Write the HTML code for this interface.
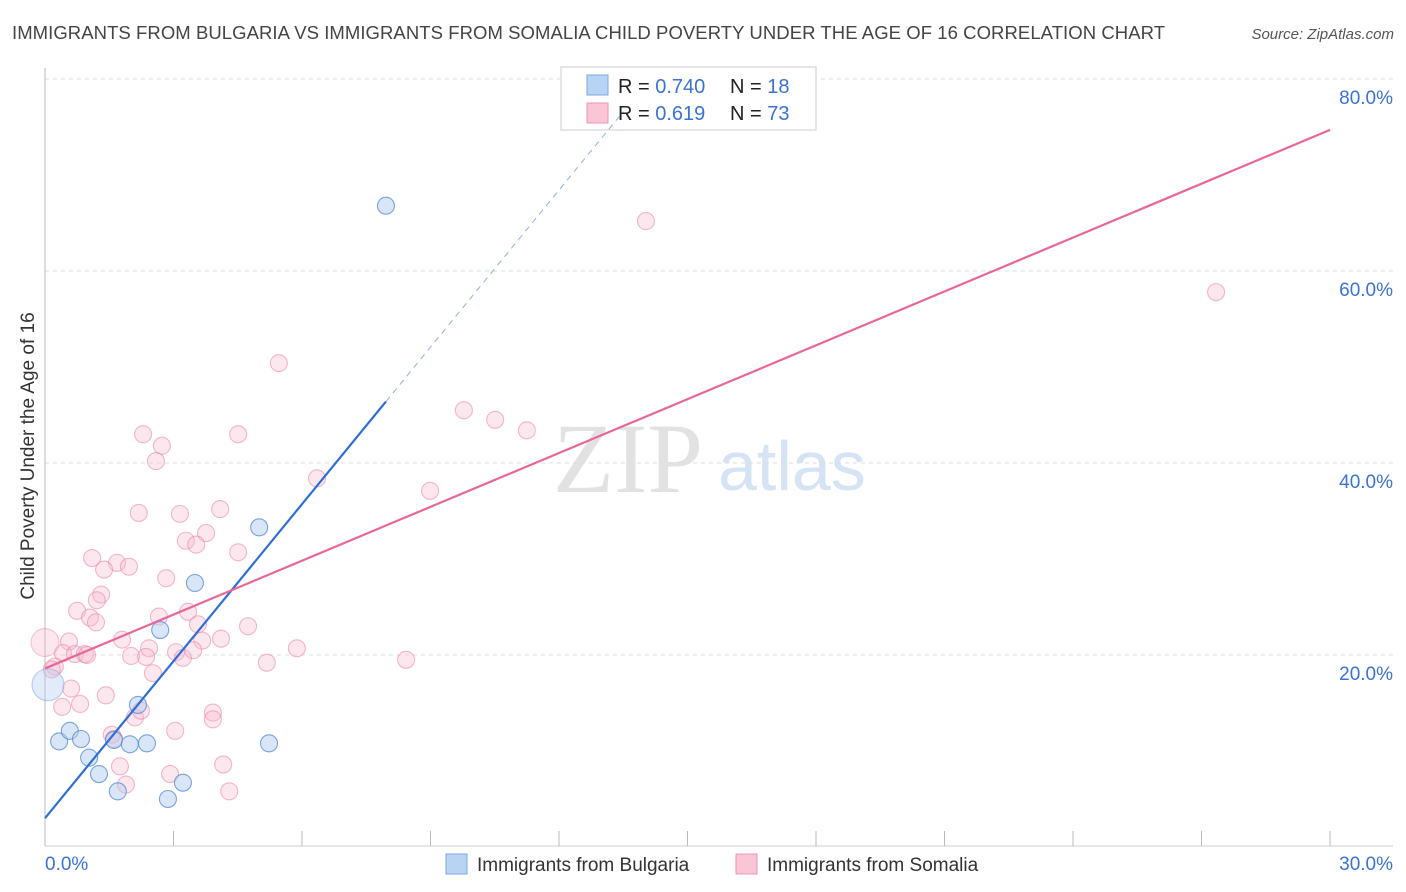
<!DOCTYPE html>
<html><head><meta charset="utf-8">
<style>
body{margin:0;background:#fff;font-family:"Liberation Sans",sans-serif;}
#wrap{position:relative;width:1406px;height:892px;overflow:hidden;}
svg text{font-family:"Liberation Sans",sans-serif;}
</style></head>
<body>
<div id="wrap">
<svg id="chart" width="1406" height="892">
  <text x="12" y="39" font-size="18.5" fill="#444" textLength="1153">IMMIGRANTS FROM BULGARIA VS IMMIGRANTS FROM SOMALIA CHILD POVERTY UNDER THE AGE OF 16 CORRELATION CHART</text>
  <text x="1394" y="39" font-size="15" fill="#555" font-style="italic" text-anchor="end">Source: ZipAtlas.com</text>
  <text x="0" y="0" transform="translate(34,456) rotate(-90)" font-size="19" fill="#333" text-anchor="middle">Child Poverty Under the Age of 16</text>
  <g>
    <text x="553" y="492" font-size="100" fill="#e2e2e2" style="font-family:'Liberation Serif',serif">ZIP</text>
    <text x="718" y="490" font-size="70" fill="#d5e3f5">atlas</text>
  </g>
  <g id="grid"></g><g id="axes"></g><g id="lines"></g><g id="pts"></g>
  <g>
    <rect x="561" y="67" width="255" height="63" fill="#fff" stroke="#ddd" stroke-width="1.5"/>
    <rect x="587" y="75" width="21" height="20" fill="#b9d3f5" stroke="#7aa7e6"/>
    <rect x="587" y="103" width="21" height="20" fill="#f9c6d5" stroke="#ec94b0"/>
    <text x="618" y="93" font-size="20" fill="#222">R = <tspan fill="#3a73d3">0.740</tspan></text>
    <text x="730" y="93" font-size="20" fill="#222">N =  <tspan fill="#3a73d3">18</tspan></text>
    <text x="618" y="120" font-size="20" fill="#222">R =  <tspan fill="#3a73d3">0.619</tspan></text>
    <text x="730" y="120" font-size="20" fill="#222">N = <tspan fill="#3a73d3">73</tspan></text>
  </g>
  <g>
    <rect x="446" y="854" width="21" height="20" fill="#b9d3f5" stroke="#7aa7e6"/>
    <text x="477" y="871" font-size="19" fill="#333">Immigrants from Bulgaria</text>
    <rect x="736" y="854" width="21" height="20" fill="#f9c6d5" stroke="#ec94b0"/>
    <text x="767" y="871" font-size="19" fill="#333">Immigrants from Somalia</text>
  </g>
</svg>
</div>
<script>
const yTicks=[20,40,60,80];
const xTickLabels=["0.0%","30.0%"];
const blueX=[7.96,5.00,3.50,2.69,2.17,0.33,0.58,0.84,1.03,1.26,1.61,1.70,1.98,2.38,2.87,3.22,5.23];
const blueY=[66.8,33.3,27.5,22.6,14.8,11.0,12.1,11.25,9.3,7.6,11.15,5.8,10.7,10.8,5.0,6.7,10.8];
const blueBigX=[0.07], blueBigY=[16.9];
const pinkX=[2.29,2.73,2.59,4.51,6.35,2.19,3.15,4.09,3.76,3.29,3.53,4.51,1.10,1.68,1.38,1.96,2.83,1.31,1.21,0.75,1.05,1.19,2.66,3.34,3.57,3.67,4.11,4.74,0.56,1.80,0.42,0.70,0.93,0.98,2.01,2.43,2.36,3.06,3.22,3.46,5.88,5.18,0.23,0.16,2.52,0.61,1.42,0.40,0.82,2.10,2.24,3.92,3.92,3.04,1.56,1.61,1.75,4.16,2.92,1.89,4.30,14.03,27.34,5.46,9.78,10.51,11.25,8.99,8.43];
const pinkY=[43.0,41.8,40.2,43.0,38.4,34.8,34.7,35.2,32.7,31.9,31.5,30.7,30.1,29.6,28.9,29.2,28.0,26.3,25.7,24.6,23.9,23.4,24.0,24.5,23.2,21.5,21.7,23.0,21.4,21.6,20.2,20.1,20.1,20.0,19.9,20.7,19.8,20.3,19.7,20.5,20.7,19.2,18.8,18.5,18.1,16.5,15.8,14.6,14.9,13.5,14.2,14.0,13.3,12.1,11.7,11.25,8.4,8.6,7.6,6.5,5.8,65.2,57.8,50.4,45.5,44.5,43.4,37.1,19.5];
const pinkBigX=[0.0], pinkBigY=[21.3];
const blueLine=[0,3.0,7.96,46.4,13.5,76.6];
const pinkLine=[0,18.6,30,74.7];

const NS="http://www.w3.org/2000/svg";
const sx=v=>45+v/30*1285;
const sy=v=>847-v/20*192;
function mk(tag,attrs,parent){const e=document.createElementNS(NS,tag);for(const k in attrs)e.setAttribute(k,attrs[k]);parent.appendChild(e);return e;}
const grid=document.getElementById('grid'),axes=document.getElementById('axes'),lines=document.getElementById('lines'),pts=document.getElementById('pts');
yTicks.forEach(t=>{
  const l=mk('line',{x1:45,x2:1393,y1:sy(t),y2:sy(t),stroke:'#ddd','stroke-dasharray':'4,4'},grid);
  
  
  const tx=mk('text',{x:1393,y:sy(t)+25,'font-size':19,fill:'#3a73d3','text-anchor':'end'},axes);
  tx.textContent=t.toFixed(1)+'%';
  
  
});
const ax=mk('line',{x1:45,x2:45,y1:68,y2:846,stroke:'#bbb'},axes);


const bx=mk('line',{x1:45,x2:1393,y1:846,y2:846,stroke:'#ccc'},axes);


for(let i=0;i<=10;i++){
  const t=mk('line',{x1:sx(i*3),x2:sx(i*3),y1:831,y2:846,stroke:'#bbb'},axes);
  
  
}
[[0,'start',xTickLabels[0],45],[30,'end',xTickLabels[1],1393]].forEach(a=>{
  const tx=mk('text',{x:a[3],y:870,'font-size':19,fill:'#3a73d3','text-anchor':a[1]},axes);
  tx.textContent=a[2];
  
  
});
function dots(X,Y,r,fill,stroke,name){
  X.forEach((x,i)=>{
    const c=mk('circle',{cx:sx(x),cy:sy(Y[i]),r:r,fill:fill,stroke:stroke,'stroke-width':1.1},pts);
    
    
  });
}
dots(pinkX,pinkY,8.5,'rgba(248,185,205,0.35)','rgba(232,130,160,0.55)','somalia-point');
dots(pinkBigX,pinkBigY,14,'rgba(248,185,205,0.35)','rgba(232,130,160,0.45)','somalia-point');
dots(blueBigX,blueBigY,16,'rgba(180,205,240,0.4)','rgba(110,155,225,0.45)','bulgaria-point');
dots(blueX,blueY,8.5,'rgba(180,205,240,0.5)','rgba(80,135,215,0.75)','bulgaria-point');
const bl=mk('line',{x1:sx(blueLine[0]),y1:sy(blueLine[1]),x2:sx(blueLine[2]),y2:sy(blueLine[3]),stroke:'#2e6fd6','stroke-width':2.2},lines);


const bd=mk('line',{x1:sx(blueLine[2]),y1:sy(blueLine[3]),x2:sx(blueLine[4]),y2:sy(blueLine[5]),stroke:'#8fb0e0','stroke-width':1,'stroke-dasharray':'6,5'},lines);


const pl=mk('line',{x1:sx(pinkLine[0]),y1:sy(pinkLine[1]),x2:sx(pinkLine[2]),y2:sy(pinkLine[3]),stroke:'#e8679a','stroke-width':2.2},lines);


document.getElementById('chart').appendChild(pts);
document.getElementById('chart').appendChild(lines);
</script>
</body></html>
